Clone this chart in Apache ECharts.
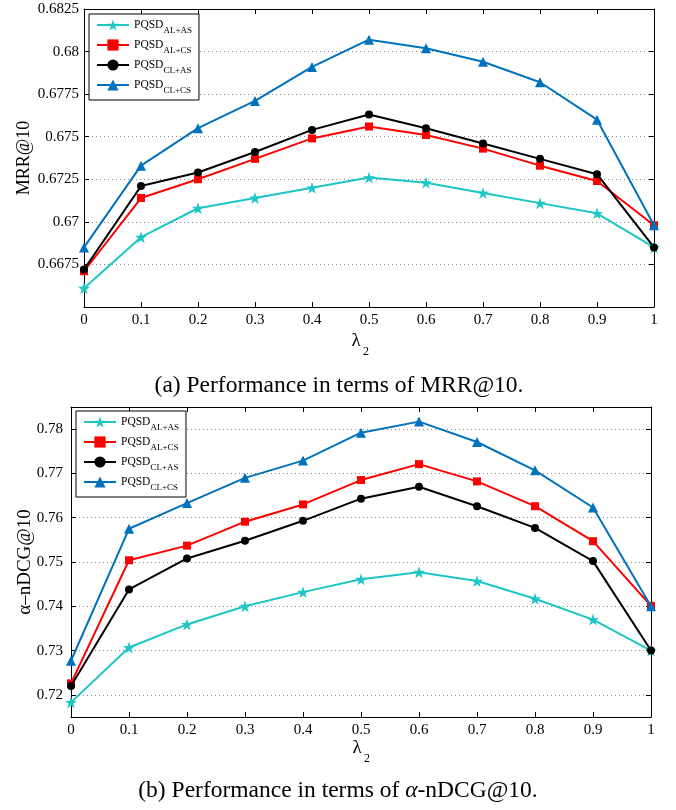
<!DOCTYPE html>
<html>
<head>
<meta charset="utf-8">
<script src="https://cdn.jsdelivr.net/npm/echarts@6/dist/echarts.min.js"></script>
<style>
  html, body { margin: 0; padding: 0; background: #fff; }
  #chart { width: 676px; height: 810px; }
</style>
</head>
<body>
<div id="chart"></div>
<script>
// lambda_2 values on the x axis
const lambdas = [0, 0.1, 0.2, 0.3, 0.4, 0.5, 0.6, 0.7, 0.8, 0.9, 1];

const seriesNames = ['PQSD_AL+AS', 'PQSD_AL+CS', 'PQSD_CL+AS', 'PQSD_CL+CS'];

// (a) MRR@10
const mrrALAS = [0.6661, 0.6691, 0.6708, 0.6714, 0.6720, 0.6726, 0.6723, 0.6717, 0.6711, 0.6705, 0.6685];
const mrrALCS = [0.6671, 0.6714, 0.6725, 0.6737, 0.6749, 0.6756, 0.6751, 0.6743, 0.6733, 0.6724, 0.6698];
const mrrCLAS = [0.6672, 0.6721, 0.6729, 0.6741, 0.6754, 0.6763, 0.6755, 0.6746, 0.6737, 0.6728, 0.6685];
const mrrCLCS = [0.6685, 0.6733, 0.6755, 0.6771, 0.6791, 0.6807, 0.6802, 0.6794, 0.6782, 0.6760, 0.6698];
const mrrTicks = [0.6675, 0.67, 0.6725, 0.675, 0.6775, 0.68, 0.6825];

// (b) alpha-nDCG@10
const ndcgALAS = [0.7183, 0.7307, 0.7359, 0.7400, 0.7432, 0.7461, 0.7477, 0.7457, 0.7417, 0.7370, 0.7300];
const ndcgALCS = [0.7226, 0.7504, 0.7537, 0.7591, 0.7630, 0.7685, 0.7721, 0.7682, 0.7626, 0.7547, 0.7401];
const ndcgCLAS = [0.7220, 0.7438, 0.7508, 0.7548, 0.7593, 0.7643, 0.7670, 0.7626, 0.7577, 0.7502, 0.7300];
const ndcgCLCS = [0.7277, 0.7575, 0.7633, 0.7690, 0.7729, 0.7792, 0.7817, 0.7771, 0.7707, 0.7623, 0.7400];
const ndcgTicks = [0.72, 0.73, 0.74, 0.75, 0.76, 0.77, 0.78];

const FONT = '"Liberation Serif", "Times New Roman", serif';
const STAR = 'path://M0,-10 L2.245,-3.09 L9.511,-3.09 L3.633,1.18 L5.878,8.09 L0,3.82 L-5.878,8.09 L-3.633,1.18 L-9.511,-3.09 L-2.245,-3.09 Z';
const colors = ['#1cc6c6', '#ff0000', '#000000', '#0072bd'];
const symbols = [STAR, 'rect', 'circle', 'triangle'];
const symbolSizes = [12, 8, 8, 10];

const fmt = v => String(parseFloat(v.toFixed(4)));

function makeSeries(valueSets, axisIdx) {
  return valueSets.map((vals, k) => ({
    name: seriesNames[k],
    type: 'line',
    xAxisIndex: axisIdx,
    yAxisIndex: axisIdx,
    data: lambdas.map((x, i) => [x, vals[i]]),
    symbol: symbols[k],
    symbolSize: symbolSizes[k],
    showAllSymbol: true,
    lineStyle: { color: colors[k], width: 2 },
    itemStyle: { color: colors[k] },
    z: 3 + k
  }));
}

function makeLegend(left, top) {
  return {
    orient: 'vertical',
    left: left,
    top: top,
    z: 10,
    itemWidth: 32,
    itemHeight: 14,
    itemGap: 4,
    padding: [5, 7, 5, 7],
    borderColor: '#000',
    borderWidth: 1,
    borderRadius: 0,
    backgroundColor: '#fff',
    selectedMode: false,
    data: seriesNames,
    formatter: n => '{n|PQSD}{s|' + n.split('_')[1] + '}',
    textStyle: {
      fontFamily: FONT,
      color: '#000',
      rich: {
        n: { fontFamily: FONT, fontSize: 11.5, lineHeight: 20, verticalAlign: 'middle', color: '#000' },
        s: { fontFamily: FONT, fontSize: 9, lineHeight: 9, verticalAlign: 'bottom', color: '#000' }
      }
    }
  };
}

function xAxes(gridIndex) {
  const base = {
    type: 'value', gridIndex: gridIndex, min: 0, max: 1, interval: 0.1,
    axisLine: { show: true, onZero: false, lineStyle: { color: '#000', width: 1 } },
    axisTick: { show: true, inside: true, length: 5, lineStyle: { color: '#000' } },
    splitLine: { show: false }
  };
  return [
    Object.assign({}, base, {
      position: 'bottom',
      axisLabel: { fontFamily: FONT, fontSize: 15, color: '#000', margin: 6, formatter: v => String(parseFloat(v.toFixed(1))) }
    }),
    Object.assign({}, base, { position: 'top', axisLabel: { show: false } })
  ];
}

function yAxes(gridIndex, min, max, ticks, name, nameGap, nameSize, margin) {
  const base = {
    type: 'value', gridIndex: gridIndex, min: min, max: max,
    axisLine: { show: true, onZero: false, lineStyle: { color: '#000', width: 1 } },
    axisTick: { show: true, inside: true, length: 5, customValues: ticks, lineStyle: { color: '#000' } }
  };
  return [
    Object.assign({}, base, {
      position: 'left',
      axisLabel: { customValues: ticks, fontFamily: FONT, fontSize: 15, color: '#000', margin: margin, formatter: fmt },
      splitLine: { show: true, lineStyle: { color: '#888', width: 1, type: [1, 3] } },
      name: name,
      nameLocation: 'middle',
      nameGap: nameGap,
      nameMoveOverlap: false,
      nameTextStyle: { fontFamily: FONT, fontSize: nameSize, color: '#000' }
    }),
    Object.assign({}, base, { position: 'right', axisLabel: { show: false }, splitLine: { show: false } })
  ];
}

// λ with subscript 2, placed under each x axis
function lambdaLabel(cx, cy) {
  return [
    { type: 'text', x: cx, y: cy, style: { text: 'λ', fontFamily: 'Liberation Serif', fontSize: 19, fill: '#000', align: 'center', verticalAlign: 'middle' } },
    { type: 'text', x: cx + 7, y: cy + 11, style: { text: '2', fontFamily: 'Liberation Serif', fontSize: 12, fill: '#000', align: 'left', verticalAlign: 'middle' } }
  ];
}

const chart = echarts.init(document.getElementById('chart'), null, { renderer: 'canvas' });

const xa = xAxes(0);
const xb = xAxes(1);
const ya = yAxes(0, 0.665, 0.6825, mrrTicks, 'MRR@10', 51, 18, 5);
const yb = yAxes(1, 0.715, 0.785, ndcgTicks, 'α–nDCG@10', 36, 19, 8);

chart.setOption({
  animation: false,
  backgroundColor: '#fff',
  textStyle: { fontFamily: FONT },
  grid: [
    { left: 84, right: 22, top: 9, height: 298, containLabel: false },
    { left: 71, right: 25, top: 407, height: 310, containLabel: false }
  ],
  // axes 0,1: chart (a) main / chart (b) main; axes 2,3: mirrored top/right frames
  xAxis: [xa[0], xb[0], xa[1], xb[1]],
  yAxis: [ya[0], yb[0], ya[1], yb[1]],
  legend: [makeLegend(89, 14), makeLegend(76, 411)],
  series: makeSeries([mrrALAS, mrrALCS, mrrCLAS, mrrCLCS], 0)
    .concat(makeSeries([ndcgALAS, ndcgALCS, ndcgCLAS, ndcgCLCS], 1)),
  graphic: lambdaLabel(356, 341).concat(lambdaLabel(357, 748)).concat([
    {
      type: 'text', x: 339, y: 386,
      style: { text: '(a) Performance in terms of MRR@10.', fontFamily: 'Liberation Serif', fontSize: 23.5, fill: '#000', align: 'center', verticalAlign: 'middle' }
    },
    {
      type: 'text', x: 338, y: 791,
      style: {
        text: '(b) Performance in terms of {i|α}-nDCG@10.',
        fontFamily: 'Liberation Serif', fontSize: 23.5, fill: '#000', align: 'center', verticalAlign: 'middle',
        rich: { i: { fontFamily: 'Liberation Serif', fontSize: 23.5, fontStyle: 'italic', fill: '#000' } }
      }
    }
  ])
});
</script>
</body>
</html>
